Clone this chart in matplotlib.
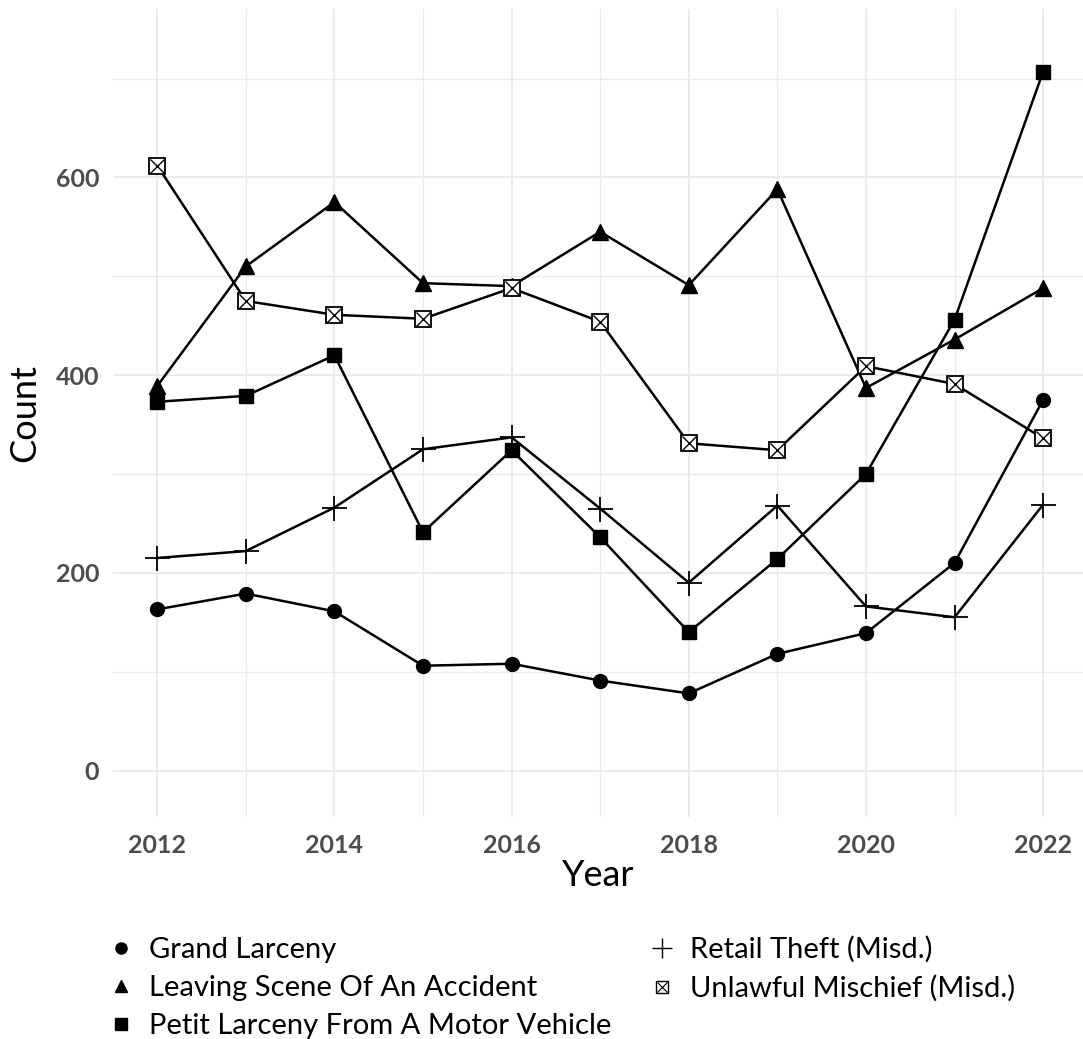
import matplotlib
matplotlib.use("Agg")
import matplotlib.pyplot as plt
from matplotlib.lines import Line2D
from matplotlib.legend_handler import HandlerTuple

plt.rcParams['font.family'] = ['Lato', 'DejaVu Sans']

years = [2012, 2013, 2014, 2015, 2016, 2017, 2018, 2019, 2020, 2021, 2022]
grand_larceny = [163, 179, 161, 106, 108, 91, 78, 118, 139, 210, 375]
leaving_scene = [389, 510, 575, 493, 490, 545, 491, 588, 387, 436, 488]
petit_larceny = [373, 379, 420, 241, 324, 236, 140, 214, 300, 456, 707]
retail_theft = [215, 222, 266, 325, 337, 265, 190, 268, 166, 155, 269]
unlawful_mischief = [612, 475, 461, 457, 488, 454, 331, 324, 409, 391, 336]

labels = ["Grand Larceny", "Leaving Scene Of An Accident",
          "Petit Larceny From A Motor Vehicle", "Retail Theft (Misd.)",
          "Unlawful Mischief (Misd.)"]
y_ticks = [0, 200, 400, 600]
x_ticks = [2012, 2014, 2016, 2018, 2020, 2022]

fig = plt.figure(figsize=(10.83, 10.39), dpi=100)
fig.patch.set_facecolor('white')
ax = fig.add_axes([0.1043, 0.2137, 0.8957, 0.7773])
ax.set_facecolor('white')

lw = 1.8
ax.plot(years, grand_larceny, color='black', lw=lw, marker='o', ms=10, zorder=3)
ax.plot(years, leaving_scene, color='black', lw=lw, marker='^', ms=12, zorder=3)
ax.plot(years, petit_larceny, color='black', lw=lw, marker='s', ms=10, zorder=3)
ax.plot(years, retail_theft, color='black', lw=lw, marker='+', ms=18, mew=1.3, zorder=3)
ax.plot(years, unlawful_mischief, color='black', lw=lw, zorder=3)
ax.plot(years, unlawful_mischief, ls='none', marker='s', ms=11, mfc='white', mec='black', mew=1.3, zorder=4)
ax.plot(years, unlawful_mischief, ls='none', marker='x', ms=10, mec='black', mew=1.0, zorder=5)

ax.set_xlim(2011.5, 2022.45)
ax.set_ylim(-47, 770)
ax.set_xticks(x_ticks)
ax.set_xticks(years, minor=True)
ax.set_yticks(y_ticks)
ax.set_yticks([100, 300, 500, 700], minor=True)
ax.grid(True, which='major', color='#ebebeb', lw=1.4)
ax.grid(True, which='minor', color='#ebebeb', lw=1.0)
ax.set_axisbelow(True)
for s in ax.spines.values():
    s.set_visible(False)
ax.tick_params(which='both', length=0)
ax.tick_params(axis='y', pad=10, labelsize=18, labelcolor='#4d4d4d')
ax.tick_params(axis='x', pad=12, labelsize=18, labelcolor='#4d4d4d')
for t in ax.get_xticklabels() + ax.get_yticklabels():
    t.set_fontweight('bold')
ax.set_xlabel('Year', fontsize=26, labelpad=2)
ax.set_ylabel('Count', fontsize=26, labelpad=10)

h1 = Line2D([], [], ls='none', marker='o', color='black', ms=8)
h2 = Line2D([], [], ls='none', marker='^', color='black', ms=9)
h3 = Line2D([], [], ls='none', marker='s', color='black', ms=8)
h4 = Line2D([], [], ls='none', marker='+', color='black', ms=14, mew=1.0)
h5a = Line2D([], [], ls='none', marker='s', mfc='white', mec='black', ms=9, mew=1.0)
h5b = Line2D([], [], ls='none', marker='x', mec='black', ms=7, mew=0.8)
fig.legend([h1, h2, h3, h4, (h5a, h5b)], labels, ncol=2,
           handler_map={tuple: HandlerTuple(ndivide=1, pad=0)},
           loc='upper left', bbox_to_anchor=(0.074, 0.1245), frameon=False,
           fontsize=21, handlelength=1.0, handletextpad=0.45,
           columnspacing=1.25, labelspacing=0.42)

fig.savefig('out.png', dpi=100, facecolor='white')
